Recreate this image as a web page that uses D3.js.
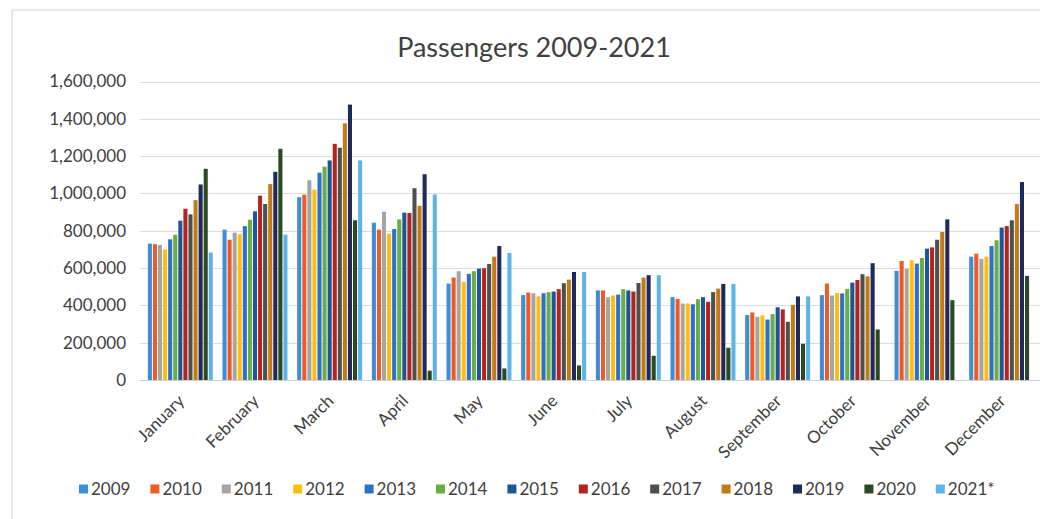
<!DOCTYPE html>
<html>
<head>
<meta charset="utf-8">
<script src="https://cdn.jsdelivr.net/npm/d3@7"></script>
<style>
  html, body { margin: 0; padding: 0; background: #fff; }
  svg { display: block; }
  text { font-family: Lato, "Open Sans", sans-serif; fill: #404040; }
</style>
</head>
<body>
<svg id="chart" width="1040" height="519"></svg>
<script>
// Monthly passenger counts, one array per year (2021 runs through September)
const months = ["January","February","March","April","May","June","July","August","September","October","November","December"];
const years = ["2009","2010","2011","2012","2013","2014","2015","2016","2017","2018","2019","2020","2021*"];

const y2009 = [731000, 806000, 980000, 843000, 517000, 455000, 480000, 444000, 348000, 455000, 585000, 661000];
const y2010 = [728000, 752000, 993000, 806000, 549000, 469000, 480000, 435000, 362000, 517000, 638000, 677000];
const y2011 = [724000, 790000, 1071000, 902000, 583000, 465000, 444000, 410000, 339000, 453000, 595000, 649000];
const y2012 = [700000, 781000, 1020000, 784000, 526000, 448000, 453000, 410000, 346000, 467000, 642000, 661000];
const y2013 = [754000, 825000, 1111000, 809000, 569000, 465000, 458000, 406000, 324000, 464000, 624000, 718000];
const y2014 = [779000, 859000, 1143000, 861000, 583000, 471000, 487000, 433000, 353000, 488000, 654000, 749000];
const y2015 = [854000, 904000, 1177000, 897000, 597000, 474000, 480000, 444000, 390000, 522000, 704000, 817000];
const y2016 = [918000, 988000, 1266000, 895000, 599000, 487000, 474000, 419000, 378000, 536000, 711000, 825000];
const y2017 = [888000, 943000, 1245000, 1028000, 622000, 519000, 520000, 471000, 312000, 567000, 752000, 856000];
const y2018 = [964000, 1050000, 1376000, 934000, 661000, 538000, 549000, 490000, 403000, 555000, 793000, 943000];
const y2019 = [1048000, 1116000, 1476000, 1103000, 718000, 579000, 562000, 515000, 448000, 626000, 861000, 1061000];
const y2020 = [1132000, 1239000, 856000, 50000, 62000, 78000, 130000, 173000, 194000, 271000, 428000, 558000];
const y2021 = [683000, 779000, 1177000, 995000, 681000, 579000, 562000, 515000, 448000, null, null, null];

const seriesValues = [y2009, y2010, y2011, y2012, y2013, y2014, y2015, y2016, y2017, y2018, y2019, y2020, y2021];
const yTicks = [0, 200000, 400000, 600000, 800000, 1000000, 1200000, 1400000, 1600000];

const colors = ["#3c8ed8", "#ee5b25", "#a5a5a5", "#fdbf0f", "#2f6fcc", "#6aad42", "#1d5596", "#b0261f",
                "#4f4f4f", "#c27b18", "#1d2b5c", "#2b4a1f", "#5cb4ea"];

const svg = d3.select("#chart");
const W = 1040, H = 519;
const plot = { left: 143, right: 1039, top: 81.5, bottom: 380 };

// Chart frame edges
svg.append("line").attr("x1", 12).attr("x2", 12).attr("y1", 10).attr("y2", H)
  .attr("stroke", "#d0d0d0").attr("stroke-width", 1);
svg.append("line").attr("x1", 12).attr("x2", W).attr("y1", 10).attr("y2", 10)
  .attr("stroke", "#d0d0d0").attr("stroke-width", 1);

const x0 = d3.scaleBand().domain(months).range([plot.left, plot.right]).paddingInner(0.13).paddingOuter(0.065);
const x1 = d3.scaleBand().domain(years).range([0, x0.bandwidth()]).paddingInner(0.2);
const y = d3.scaleLinear().domain([0, 1600000]).range([plot.bottom, plot.top]);

// Horizontal gridlines
svg.append("g").selectAll("line").data(yTicks.filter(d => d > 0)).join("line")
  .attr("x1", 140).attr("x2", W)
  .attr("y1", d => Math.round(y(d)) + 0.5).attr("y2", d => Math.round(y(d)) + 0.5)
  .attr("stroke", "#dcdcdc").attr("stroke-width", 1);

// Y axis labels
const yAxis = d3.axisLeft(y).tickValues(yTicks).tickSize(0).tickPadding(0)
  .tickFormat(d3.format(","));
const gy = svg.append("g").attr("transform", "translate(126,0)").call(yAxis);
gy.select(".domain").remove();
gy.selectAll("text").style("font-size", "17px").attr("fill", "#404040").attr("font-family", "Lato, sans-serif");

// Bars
const groups = svg.append("g").selectAll("g").data(months).join("g")
  .attr("transform", d => `translate(${x0(d)},0)`);
groups.selectAll("rect")
  .data((m, i) => years.map((yr, k) => ({ yr, k, v: seriesValues[k][i] })).filter(d => d.v != null))
  .join("rect")
  .attr("x", d => x1(d.yr))
  .attr("width", x1.bandwidth())
  .attr("y", d => y(d.v))
  .attr("height", d => y(0) - y(d.v))
  .attr("fill", d => colors[d.k]);

// Baseline
svg.append("line").attr("x1", 140).attr("x2", W)
  .attr("y1", Math.round(y(0)) + 0.5).attr("y2", Math.round(y(0)) + 0.5)
  .attr("stroke", "#d0d0d0").attr("stroke-width", 1);

// Month labels, rotated
const xAxis = d3.axisBottom(x0).tickSize(0).tickPadding(0);
const gx = svg.append("g").attr("transform", `translate(0,${plot.bottom})`).call(xAxis);
gx.select(".domain").remove();
gx.selectAll("text")
  .style("font-size", "17px").attr("fill", "#404040").attr("font-family", "Lato, sans-serif")
  .attr("text-anchor", "end")
  .attr("dy", 0)
  .attr("transform", "translate(5,22) rotate(-45)");

// Title
svg.append("text").attr("x", 534).attr("y", 57).attr("text-anchor", "middle")
  .style("font-size", "27px").attr("fill", "#3a3a3a").text("Passengers 2009-2021");

// Legend
const legend = svg.append("g").selectAll("g").data(years).join("g")
  .attr("transform", (d, i) => `translate(${79 + i * 71.4},489)`);
legend.append("rect").attr("x", 0).attr("y", -4.5).attr("width", 9).attr("height", 9)
  .attr("fill", (d, i) => colors[i]);
legend.append("text").attr("x", 12).attr("y", 6).style("font-size", "17px")
  .attr("fill", "#404040").text(d => d);
</script>
</body>
</html>
